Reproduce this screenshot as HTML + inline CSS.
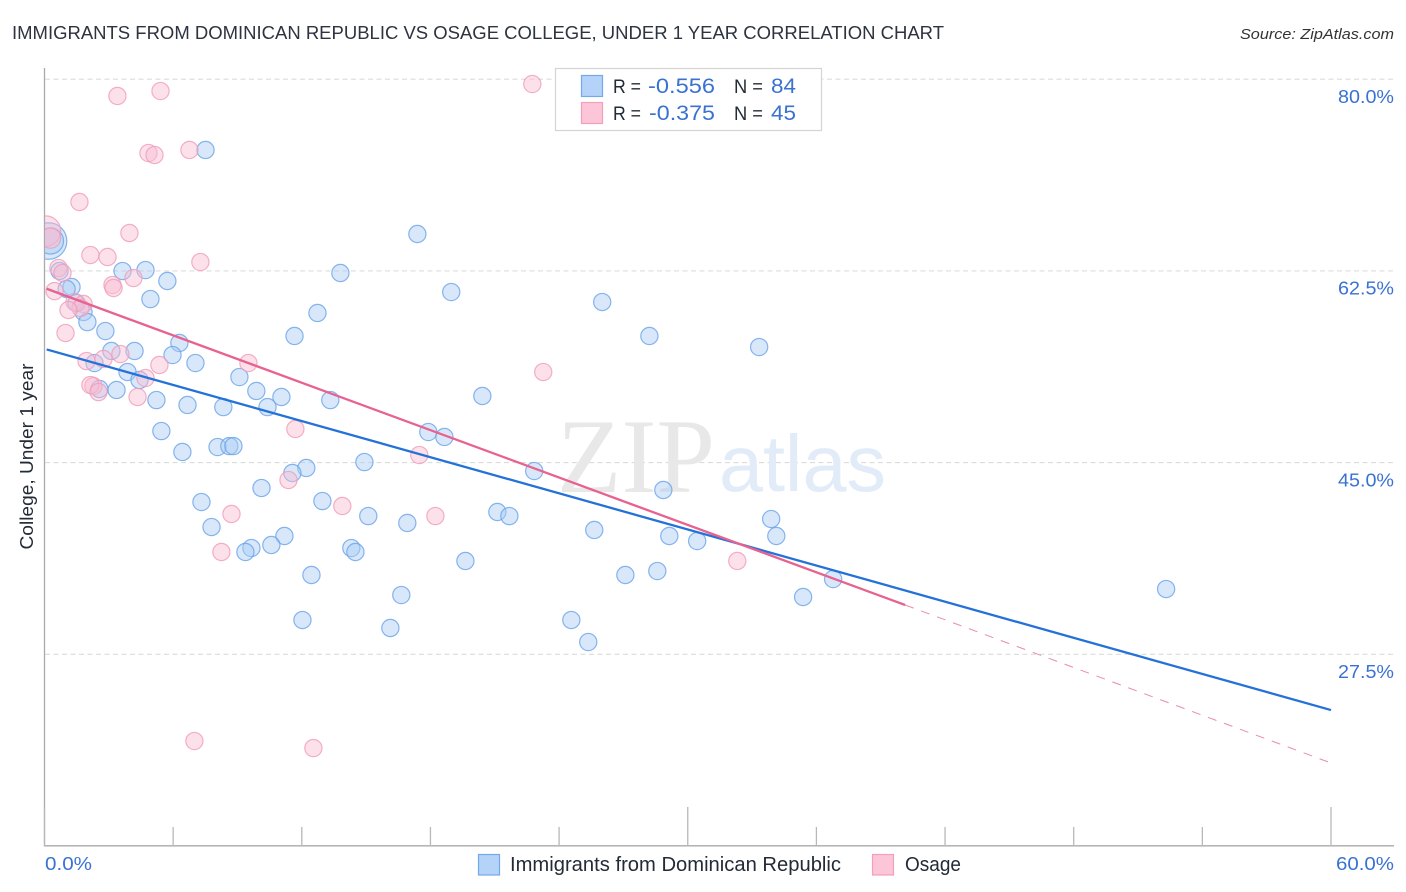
<!DOCTYPE html>
<html lang="en">
<head>
<meta charset="utf-8">
<title>Immigrants from Dominican Republic vs Osage College, Under 1 Year Correlation Chart</title>
<style>
html,body{margin:0;padding:0;background:#fff;width:1406px;height:892px;overflow:hidden}
svg{display:block}
text{font-family:"Liberation Sans",sans-serif}
</style>
</head>
<body>
<svg id="chart" xmlns="http://www.w3.org/2000/svg" width="1406" height="892" viewBox="0 0 1406 892">
  <defs><clipPath id="plot-clip"><rect x="45" y="60" width="1349" height="786"/></clipPath></defs>
  <text x="12" y="39" font-size="18.5" fill="#2c3440" textLength="932" lengthAdjust="spacingAndGlyphs">IMMIGRANTS FROM DOMINICAN REPUBLIC VS OSAGE COLLEGE, UNDER 1 YEAR CORRELATION CHART</text>
  <text x="1394" y="39" font-size="15" font-style="italic" fill="#333" text-anchor="end" textLength="154" lengthAdjust="spacingAndGlyphs">Source: ZipAtlas.com</text>
  <g id="grid"></g>
  <text x="557" y="492" font-size="106" fill="#e8e8e8" textLength="158" lengthAdjust="spacingAndGlyphs" style="font-family:'Liberation Serif',serif">ZIP</text>
  <text x="719" y="491" font-size="80" fill="#e2ebf8" textLength="167" lengthAdjust="spacingAndGlyphs">atlas</text>
  <g id="axes"></g>
  <g id="points" clip-path="url(#plot-clip)"></g>
  <g id="trends"></g>
  <text transform="translate(33,456.5) rotate(-90)" font-size="18" fill="#222b36" text-anchor="middle" textLength="186" lengthAdjust="spacingAndGlyphs">College, Under 1 year</text>

  <g>
    <rect x="555.5" y="68.5" width="266" height="62" fill="#fff" stroke="#d4d4d4" stroke-width="1.2"/>
    <rect x="581.5" y="75.5" width="21" height="21" fill="#b5d2f8" stroke="#74a8e8" stroke-width="1.2"/>
    <rect x="581.5" y="102.5" width="21" height="21" fill="#fcc5d8" stroke="#f0a0bb" stroke-width="1.2"/>
    <text x="613" y="93" font-size="19.5" fill="#222b36" textLength="28" lengthAdjust="spacingAndGlyphs">R =</text>
    <text x="648" y="93" font-size="21" fill="#3a72d2" textLength="67" lengthAdjust="spacingAndGlyphs">-0.556</text>
    <text x="734" y="93" font-size="19.5" fill="#222b36" textLength="29" lengthAdjust="spacingAndGlyphs">N =</text>
    <text x="771" y="93" font-size="21" fill="#3a72d2" textLength="25" lengthAdjust="spacingAndGlyphs">84</text>
    <text x="613" y="120" font-size="19.5" fill="#222b36" textLength="28" lengthAdjust="spacingAndGlyphs">R =</text>
    <text x="649" y="120" font-size="21" fill="#3a72d2" textLength="66" lengthAdjust="spacingAndGlyphs">-0.375</text>
    <text x="734" y="120" font-size="19.5" fill="#222b36" textLength="29" lengthAdjust="spacingAndGlyphs">N =</text>
    <text x="771" y="120" font-size="21" fill="#3a72d2" textLength="25" lengthAdjust="spacingAndGlyphs">45</text>
  </g>

  <g>
    <rect x="478.5" y="854.5" width="21" height="20.5" fill="#b5d2f8" stroke="#74a8e8" stroke-width="1.2"/>
    <text x="510" y="871" font-size="20" fill="#222b36" textLength="331" lengthAdjust="spacingAndGlyphs">Immigrants from Dominican Republic</text>
    <rect x="872.5" y="854.5" width="21" height="20.5" fill="#fcc5d8" stroke="#f0a0bb" stroke-width="1.2"/>
    <text x="905" y="871" font-size="20" fill="#222b36" textLength="56" lengthAdjust="spacingAndGlyphs">Osage</text>
  </g>
</svg>
<script>
const yTicks = [80, 62.5, 45, 27.5];
const yTickLabels = ["80.0%", "62.5%", "45.0%", "27.5%"];
const xTicks = [0, 6, 12, 18, 24, 30, 36, 42, 48, 54, 60];
const xMajorTicks = [0, 30, 60];
const xEdgeLabels = ["0.0%", "60.0%"];

const blueX = [0.19,0.28,7.51,17.39,3.64,4.71,5.73,13.80,18.97,26.01,4.94,1.26,1.03,0.70,1.82,2.00,2.84,12.73,11.66,28.21,33.33,6.29,5.97,4.20,3.12,2.33,7.04,3.87,4.43,9.09,2.56,3.36,9.88,11.05,5.22,6.67,8.34,10.40,13.33,20.42,5.45,17.90,18.65,8.07,8.62,8.81,6.43,14.92,12.21,11.56,22.84,10.12,28.86,7.32,12.96,21.12,21.68,15.10,16.92,33.89,7.79,25.64,11.19,29.14,30.44,34.13,10.58,9.65,9.37,14.31,14.50,19.63,12.45,27.09,28.58,36.78,52.31,16.64,35.38,12.03,24.57,16.13,25.36,1.49];
const blueY = [65.23,65.23,73.54,65.87,62.49,62.58,61.58,62.31,60.57,59.66,59.93,61.03,60.85,62.49,58.75,57.83,57.01,58.66,56.56,56.56,55.55,55.92,54.82,55.19,55.19,54.09,54.09,53.27,52.54,52.81,51.72,51.63,51.54,50.99,50.71,50.26,50.07,50.07,50.71,51.08,47.88,47.79,47.34,46.42,46.51,46.51,45.97,45.05,44.51,44.05,44.23,42.68,42.50,41.40,41.49,40.49,40.12,40.12,39.49,39.85,39.12,38.85,38.30,38.30,37.84,38.30,37.48,37.20,36.84,37.20,36.84,36.02,34.74,34.74,35.10,34.37,33.46,32.91,32.73,30.63,30.63,29.90,28.62,59.57];
const blueWeights = [4.5, 2.3];

const pinkX = [0.05,0.28,1.63,3.96,2.14,2.94,7.27,0.65,0.84,4.15,3.17,3.22,0.47,1.40,1.82,1.68,1.12,0.98,3.54,2.75,1.96,5.36,9.51,2.28,2.14,2.52,4.34,4.71,3.40,5.41,22.75,4.85,5.13,6.76,23.26,11.70,17.48,11.38,13.89,18.23,8.72,8.25,32.31,6.99,12.54];
const pinkY = [66.14,65.50,68.79,65.96,63.95,63.77,63.31,62.76,62.31,61.85,61.21,60.94,60.66,59.66,59.48,59.11,58.93,56.83,54.91,54.46,54.27,53.91,54.09,51.99,52.08,51.44,50.99,52.72,78.47,78.92,79.56,73.26,73.08,73.54,53.27,48.07,45.69,43.41,41.04,40.12,40.31,36.84,36.02,19.58,18.94];
const pinkWeights = [3.1, 1.4];

const blueTrendX = [0.1, 60];
const blueTrendY = [55.33, 22.41];
const pinkTrendX = [0.1, 40.14];
const pinkTrendY = [60.87, 32.0];
const pinkDashX = [40.14, 60];
const pinkDashY = [32.0, 17.58];

const NS = "http://www.w3.org/2000/svg";
const xAt = v => 44.5 + v * (1331 - 44.5) / 60;
const yAt = v => 654.3 - (v - 27.5) * 10.954;

function make(parent, tag, props) {
  const el = document.createElementNS(NS, tag);
  for (const k in props) el.setAttribute(k, props[k]);
  parent.appendChild(el);
  return el;
}

const grid = document.getElementById("grid");
const axes = document.getElementById("axes");
const pts = document.getElementById("points");
const trends = document.getElementById("trends");

yTicks.forEach((t, i) => {
  const line = make(grid, "line", {x1: 45, x2: 1394, y1: yAt(t), y2: yAt(t), stroke: "#dcdcdc", "stroke-width": 1.1, "stroke-dasharray": "5 3.5"});
  
  
  const label = make(axes, "text", {x: 1394, y: yAt(t) + 23.8, "font-size": 18.5, fill: "#3a72d2", "text-anchor": "end", textLength: 56, lengthAdjust: "spacingAndGlyphs"});
  label.textContent = yTickLabels[i];
  
  
});

const yAxis = make(axes, "line", {x1: 44.5, x2: 44.5, y1: 68, y2: 846.5, stroke: "#aaaaaa", "stroke-width": 1.3});


const xAxis = make(axes, "line", {x1: 44, x2: 1394, y1: 845.8, y2: 845.8, stroke: "#aaaaaa", "stroke-width": 1.3});



xTicks.forEach(t => {
  const top = xMajorTicks.includes(t) ? 807 : 827;
  const tick = make(axes, "line", {x1: xAt(t), x2: xAt(t), y1: top, y2: 846, stroke: "#b8b8b8", "stroke-width": 1.3});
  
  
});

const xLabelStart = make(axes, "text", {x: 45, y: 870, "font-size": 18.5, fill: "#3a72d2", textLength: 47, lengthAdjust: "spacingAndGlyphs"});
xLabelStart.textContent = xEdgeLabels[0];


const xLabelEnd = make(axes, "text", {x: 1394, y: 870, "font-size": 18.5, fill: "#3a72d2", "text-anchor": "end", textLength: 58, lengthAdjust: "spacingAndGlyphs"});
xLabelEnd.textContent = xEdgeLabels[1];



blueX.forEach((v, i) => {
  const c = make(pts, "circle", {cx: xAt(v), cy: yAt(blueY[i]), r: 8.6 * Math.sqrt(blueWeights[i] || 1), fill: "#a9cbf5", "fill-opacity": 0.45, stroke: "#6aa3e8", "stroke-opacity": 0.8, "stroke-width": 1.2});
  
  
});
pinkX.forEach((v, i) => {
  const c = make(pts, "circle", {cx: xAt(v), cy: yAt(pinkY[i]), r: 8.6 * Math.sqrt(pinkWeights[i] || 1), fill: "#f9bdd2", "fill-opacity": 0.45, stroke: "#f09cb9", "stroke-opacity": 0.8, "stroke-width": 1.2});
  
  
});

const dash = make(trends, "line", {x1: xAt(pinkDashX[0]), y1: yAt(pinkDashY[0]), x2: xAt(pinkDashX[1]), y2: yAt(pinkDashY[1]), stroke: "#ea8bab", "stroke-width": 1, "stroke-dasharray": "9 8"});


const blueLine = make(trends, "line", {x1: xAt(blueTrendX[0]), y1: yAt(blueTrendY[0]), x2: xAt(blueTrendX[1]), y2: yAt(blueTrendY[1]), stroke: "#2471d8", "stroke-width": 2.3});


const pinkLine = make(trends, "line", {x1: xAt(pinkTrendX[0]), y1: yAt(pinkTrendY[0]), x2: xAt(pinkTrendX[1]), y2: yAt(pinkTrendY[1]), stroke: "#e8628f", "stroke-width": 2.3});


</script>
</body>
</html>
